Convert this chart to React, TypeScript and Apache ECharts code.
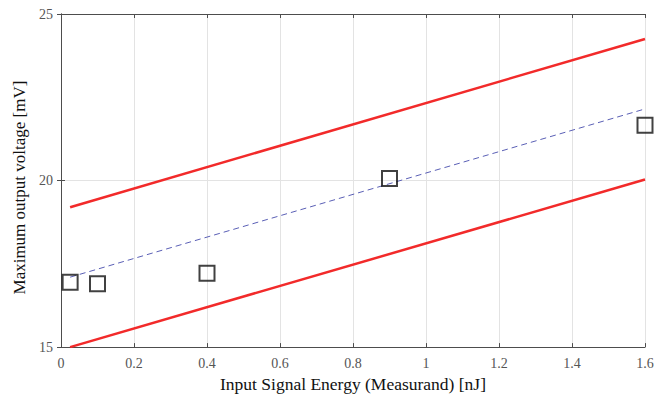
import React, { useEffect, useRef } from "react";
import * as echarts from "echarts";

const measuredX = [0.025, 0.1, 0.4, 0.9, 1.6];
const measuredY = [16.95, 16.9, 17.22, 20.06, 21.66];
const lineX = [0.025, 1.6];
const upperY = [19.2, 24.25];
const fitY = [17.1, 22.15];
const lowerY = [15.0, 20.03];
const xTicks = [0, 0.2, 0.4, 0.6, 0.8, 1, 1.2, 1.4, 1.6];
const yTicks = [15, 20, 25];

const pairs = (xs: number[], ys: number[]) => xs.map((x, i) => [x, ys[i]]);

export default function App() {
  const ref = useRef<HTMLDivElement>(null);
  useEffect(() => {
    if (!ref.current) return;
    const chart = echarts.init(ref.current, null, { renderer: "svg" });
    const font = "'Liberation Serif', 'Times New Roman', serif";
    const axisLine = { show: true, lineStyle: { color: "#4d4d4d", width: 1 } };
    chart.setOption({
      animation: false,
      textStyle: { fontFamily: font },
      grid: { left: 61, right: 26, top: 14, bottom: 50, containLabel: false },
      xAxis: [
        {
          type: "value",
          min: 0,
          max: 1.6,
          interval: 0.2,
          position: "bottom",
          name: "Input Signal Energy (Measurand) [nJ]",
          nameLocation: "middle",
          nameGap: 27,
          nameTextStyle: { color: "#111", fontSize: 17.5, fontFamily: font },
          axisLine,
          axisTick: { show: true, inside: true, length: 4, lineStyle: { color: "#4d4d4d" } },
          axisLabel: {
            color: "#555",
            fontSize: 14,
            margin: 9,
            fontFamily: font,
            formatter: (v: number) => {
              const t = xTicks.find((x) => Math.abs(x - v) < 1e-9);
              return t === undefined ? "" : String(t);
            },
          },
          splitLine: { show: true, lineStyle: { color: "#e3e3e3", width: 1 } },
        },
        {
          type: "value",
          min: 0,
          max: 1.6,
          interval: 0.2,
          position: "top",
          axisLine,
          axisTick: { show: true, inside: true, length: 4, lineStyle: { color: "#4d4d4d" } },
          axisLabel: { show: false },
          splitLine: { show: false },
        },
      ],
      yAxis: [
        {
          type: "value",
          min: 15,
          max: 25,
          interval: 5,
          position: "left",
          name: "Maximum output voltage [mV]",
          nameLocation: "middle",
          nameGap: 29,
          nameTextStyle: { color: "#111", fontSize: 17, fontFamily: font, padding: [0, 14, 0, 0] },
          axisLine,
          axisTick: { show: true, inside: true, length: 4, lineStyle: { color: "#4d4d4d" } },
          axisLabel: {
            color: "#555",
            fontSize: 14,
            margin: 8,
            fontFamily: font,
            formatter: (v: number) => (yTicks.includes(v) ? String(v) : ""),
          },
          splitLine: { show: true, lineStyle: { color: "#e3e3e3", width: 1 } },
        },
        {
          type: "value",
          min: 15,
          max: 25,
          interval: 5,
          position: "right",
          axisLine,
          axisTick: { show: true, inside: true, length: 4, lineStyle: { color: "#4d4d4d" } },
          axisLabel: { show: false },
          splitLine: { show: false },
        },
      ],
      series: [
        {
          type: "line",
          data: pairs(lineX, upperY),
          showSymbol: false,
          symbol: "none",
          lineStyle: { color: "#f22a2a", width: 2.5 },
          z: 3,
        },
        {
          type: "line",
          data: pairs(lineX, lowerY),
          showSymbol: false,
          symbol: "none",
          lineStyle: { color: "#f22a2a", width: 2.5 },
          z: 3,
        },
        {
          type: "line",
          data: pairs(lineX, fitY),
          showSymbol: false,
          symbol: "none",
          lineStyle: { color: "#5a5fb5", width: 1, type: [6, 4] },
          z: 3,
        },
        {
          type: "scatter",
          data: pairs(measuredX, measuredY),
          symbol: "rect",
          symbolSize: 15,
          clip: false,
          itemStyle: { color: "rgba(0,0,0,0)", borderColor: "#111", borderWidth: 2 },
          z: 4,
        },
      ],
    });
    return () => chart.dispose();
  }, []);
  return <div ref={ref} style={{ width: 671, height: 398, position: "absolute", left: 0, top: 0 }} />;
}
